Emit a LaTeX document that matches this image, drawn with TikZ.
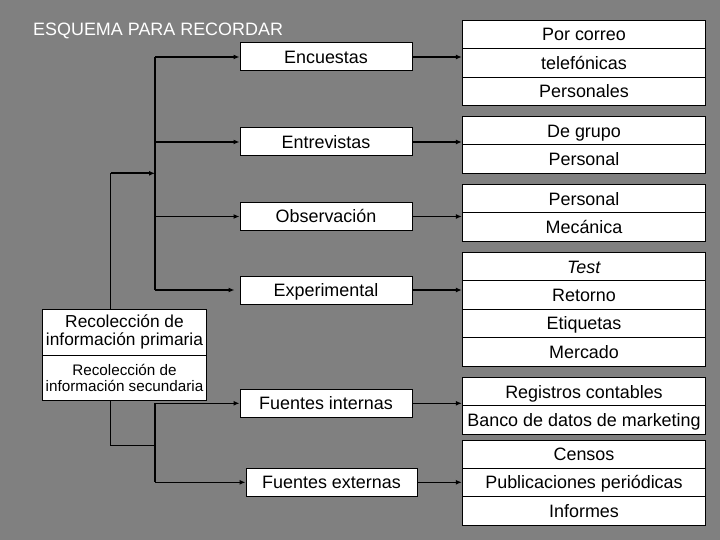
\documentclass[tikz,border=0pt]{standalone}
\usepackage{fontspec}
\setmainfont{Liberation Sans}
\usetikzlibrary{arrows.meta}
\definecolor{fondo}{RGB}{128,128,128}

\begin{document}
\begin{tikzpicture}[>={Latex[length=6pt,width=5pt]},x=1bp,y=-1bp,
  caja/.style={draw=black,fill=white,line width=1bp,inner sep=0pt,minimum height=28bp,
    font=\fontsize{18}{21}\selectfont,text height=12.9bp,text depth=0pt},
  fila/.style={caja,minimum width=243.4bp,minimum height=28.6bp},
  doble/.style={draw=black,fill=white,line width=1bp,inner sep=0pt,align=center,minimum width=164.4bp},
  rama/.style={line width=1.6bp},
  fino/.style={line width=1bp}]
  \fill[fondo] (0,0) rectangle (720,540);
  \node[anchor=west,white,inner sep=0pt,font=\fontsize{18}{21}\selectfont,text height=12.9bp,text depth=0pt]
    (titulo) at (33,28.8) {ESQUEMA PARA RECORDAR};
  % fuentes de informacion
  \node[doble,minimum height=45.7bp,font=\fontsize{17.4}{17.7}\selectfont] (prim) at (124.5,332.2)
    {Recolección de\\información primaria};
  \node[doble,minimum height=45.3bp,font=\fontsize{15.3}{15.7}\selectfont] (sec) at (124.5,377.7)
    {Recolección de\\información secundaria};
  % metodos
  \node[caja,minimum width=172bp] (enc) at (326,57) {Encuestas};
  \node[caja,minimum width=172bp] (ent) at (326,142) {Entrevistas};
  \node[caja,minimum width=172bp] (obs) at (326,216.5) {Observación};
  \node[caja,minimum width=172bp] (exp) at (326,290) {Experimental};
  \node[caja,minimum width=172bp] (fint) at (326,403.3) {Fuentes internas};
  \node[caja,minimum width=171bp] (fext) at (331.5,482.3) {Fuentes externas};
  % detalle de cada metodo
  \foreach \nombre/\yy/\texto in {pc/34.5/Por correo, tel/63/telefónicas, pers/91.5/Personales,
      dg/131/De grupo, gpers/159.3/Personal, opers/198.8/Personal, mec/227.3/Mecánica,
      test/266.8/\textit{Test}, ret/295.2/Retorno, eti/323.3/Etiquetas, mer/351.7/Mercado,
      reg/391.8/Registros contables, ban/420.2/Banco de datos de marketing,
      cen/454.3/Censos, pub/482.3/Publicaciones periódicas, inf/510.8/Informes}
    \node[fila] (\nombre) at (584,\yy) {\texto};
  % conectores
  \coordinate (tronco) at (155,0);
  \coordinate (px) at (110.7,0);
  \coordinate (entrada) at (155,173.3);
  \coordinate (union) at (155,445.3);
  \draw[rama] (enc.west -| tronco) -- (exp.west -| tronco);
  \foreach \n in {enc,ent,obs}
    \draw[rama,->] (\n.west -| tronco) -- (\n.west);
  \draw[rama,->,shorten >=5bp] (exp.west -| tronco) -- (exp.west);
  \draw[fino] (prim.north -| px) -- (entrada -| px);
  \draw[rama,->] (entrada -| px) -- (entrada);
  \draw[fino] (sec.south -| px) |- (union);
  \draw[rama] (fint.west -| tronco) -- (fext.west -| tronco);
  \foreach \n in {fint,fext}
    \draw[rama,->] (\n.west -| tronco) -- (\n.west);
  \foreach \a/\b in {enc/tel,ent/dg,obs/opers,exp/ret,fint/reg,fext/pub}
    \draw[rama,->] (\a.east) -- (\a.east -| \b.west);
\end{tikzpicture}
\end{document}
